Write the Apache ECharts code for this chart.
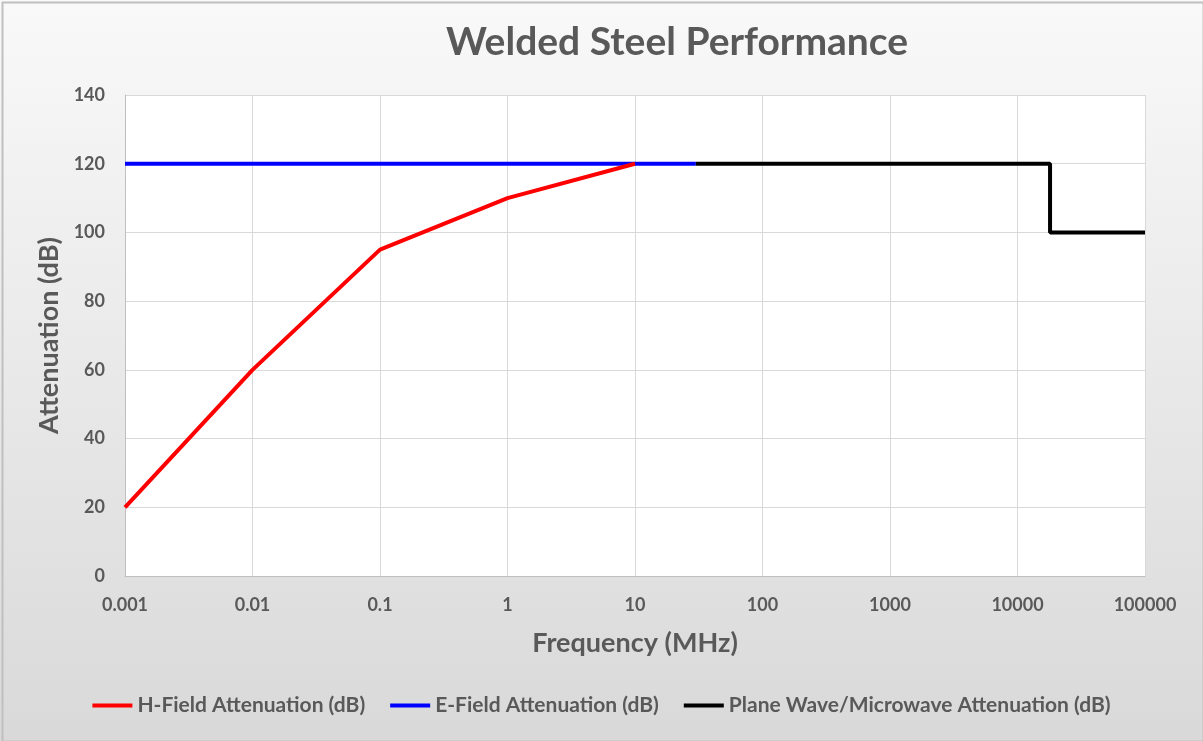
<!DOCTYPE html>
<html>
<head>
<meta charset="utf-8">
<script src="https://cdn.jsdelivr.net/npm/echarts@6/dist/echarts.min.js"></script>
<style>
html,body{margin:0;padding:0;}
#c{width:1203px;height:741px;}
</style>
</head>
<body>
<div id="c"></div>
<script>
const xTickLabels = ['0.001','0.01','0.1','1','10','100','1000','10000','100000'];
const hFieldX = [0.001, 0.01, 0.1, 1, 10];
const hFieldY = [20, 60, 95, 110, 120];
const eFieldX = [0.001, 30];
const eFieldY = [120, 120];
const planeX = [30, 18000, 18000, 100000];
const planeY = [120, 120, 100, 100];
const seriesNames = ['H-Field Attenuation (dB)','E-Field Attenuation (dB)','Plane Wave/Microwave Attenuation (dB)'];

const pair = (xs, ys) => xs.map((x, i) => [x, ys[i]]);
const FONT = 'Lato';
const TXT = '#595959';

const chart = echarts.init(document.getElementById('c'));
chart.setOption({
  backgroundColor: new echarts.graphic.LinearGradient(0, 0, 0, 1, [
    {offset: 0, color: '#f9f9f9'},
    {offset: 1, color: '#d9d9d9'}
  ]),
  animation: false,
  title: {
    text: 'Welded Steel Performance',
    left: 441,
    top: 18,
    textStyle: {fontFamily: FONT, fontSize: 39, fontWeight: 'bold', color: TXT}
  },
  grid: {left: 125, right: 58, top: 95, bottom: 165, show: true, backgroundColor: '#ffffff', borderWidth: 0},
  legend: {
    bottom: 20,
    left: 'center',
    itemWidth: 40,
    itemHeight: 4,
    itemGap: 25,
    icon: 'rect',
    textStyle: {fontFamily: FONT, fontSize: 21, fontWeight: 'bold', color: TXT},
    data: seriesNames
  },
  xAxis: {
    type: 'log',
    logBase: 10,
    min: 0.001,
    max: 100000,
    name: 'Frequency (MHz)',
    nameLocation: 'middle',
    nameGap: 54,
    nameTextStyle: {fontFamily: FONT, fontSize: 27, fontWeight: 'bold', color: TXT},
    axisLine: {lineStyle: {color: '#bfbfbf', width: 1}},
    axisTick: {show: false},
    axisLabel: {
      margin: 20,
      fontFamily: FONT, fontSize: 18, fontWeight: 'bold', color: TXT,
      formatter: v => xTickLabels[Math.round(Math.log10(v)) + 3]
    },
    splitLine: {show: true, lineStyle: {color: '#d9d9d9', width: 1}}
  },
  yAxis: {
    type: 'value',
    min: 0, max: 140, interval: 20,
    name: 'Attenuation (dB)',
    nameLocation: 'middle',
    nameGap: 62,
    nameTextStyle: {fontFamily: FONT, fontSize: 27, fontWeight: 'bold', color: TXT},
    axisLine: {show: true, lineStyle: {color: '#bfbfbf', width: 1}},
    axisTick: {show: false},
    axisLabel: {margin: 20, fontFamily: FONT, fontSize: 18, fontWeight: 'bold', color: TXT},
    splitLine: {show: true, lineStyle: {color: '#d9d9d9', width: 1}}
  },
  series: [
    {name: seriesNames[0], type: 'line', data: pair(hFieldX, hFieldY), showSymbol: false,
     lineStyle: {color: '#ff0000', width: 4}, itemStyle: {color: '#ff0000'}, z: 3},
    {name: seriesNames[1], type: 'line', data: pair(eFieldX, eFieldY), showSymbol: false,
     lineStyle: {color: '#0000ff', width: 4}, itemStyle: {color: '#0000ff'}, z: 2},
    {name: seriesNames[2], type: 'line', data: pair(planeX, planeY), showSymbol: false,
     lineStyle: {color: '#000000', width: 4}, itemStyle: {color: '#000000'}, z: 2}
  ],
  graphic: [{
    type: 'rect', left: 0, top: 0, shape: {x: 1, y: 1, width: 1201, height: 739},
    style: {fill: 'none', stroke: '#bfbfbf', lineWidth: 2}, silent: true
  }]
});
</script>
</body>
</html>
